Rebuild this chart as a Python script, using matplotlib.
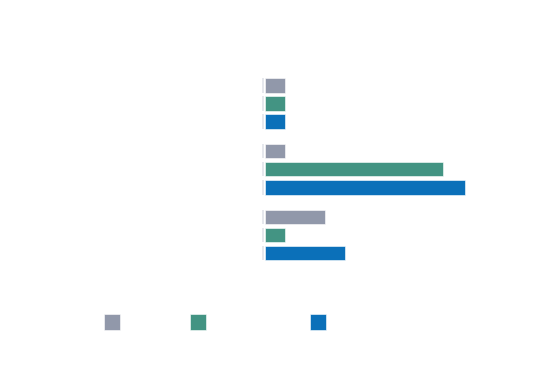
import numpy as np
import matplotlib.pyplot as plt

# three groups, three series (no text shown in the chart)
groups = [0, 1, 2]
gray_vals = [1, 1, 3]
green_vals = [1, 8.9, 1]
blue_vals = [1, 10, 4]

series = [gray_vals, green_vals, blue_vals]
colors = ['#9198aa', '#439483', '#0b70b9']
offsets = [-0.275, 0.0, 0.275]
bar_h = 0.221

fig = plt.figure(figsize=(5.45, 3.68), dpi=100)
ax = fig.add_axes([265 / 545, 0.272, 240 / 545, 0.5364])

y = np.array(groups, dtype=float)
bars = []
for vals, c, off in zip(series, colors, offsets):
    b = ax.barh(y + off, vals, height=bar_h, color=c, edgecolor='white', linewidth=0.4)
    bars.append(b)
    # faint baseline tick beside each bar
    ax.vlines(np.full(len(y), -0.09), y + off - bar_h / 2, y + off + bar_h / 2,
              color='#e2e4ea', linewidth=1.2, clip_on=False)

ax.set_xlim(0, 12)
ax.set_ylim(2.5, -0.5)
ax.set_xticks([])
ax.set_yticks([])
for s in ax.spines.values():
    s.set_visible(False)

# legend swatches, labels are blank in the reference
leg_x = [104, 190, 310]
for b, lx in zip(bars, leg_x):
    fig.legend([b], [''], loc='center left',
               bbox_to_anchor=(lx / 545, 1 - 322 / 368),
               frameon=False, borderpad=0, borderaxespad=0,
               fontsize=10, handlelength=1.15, handleheight=1.5,
               handletextpad=0)

fig.savefig('out.png', dpi=100)
